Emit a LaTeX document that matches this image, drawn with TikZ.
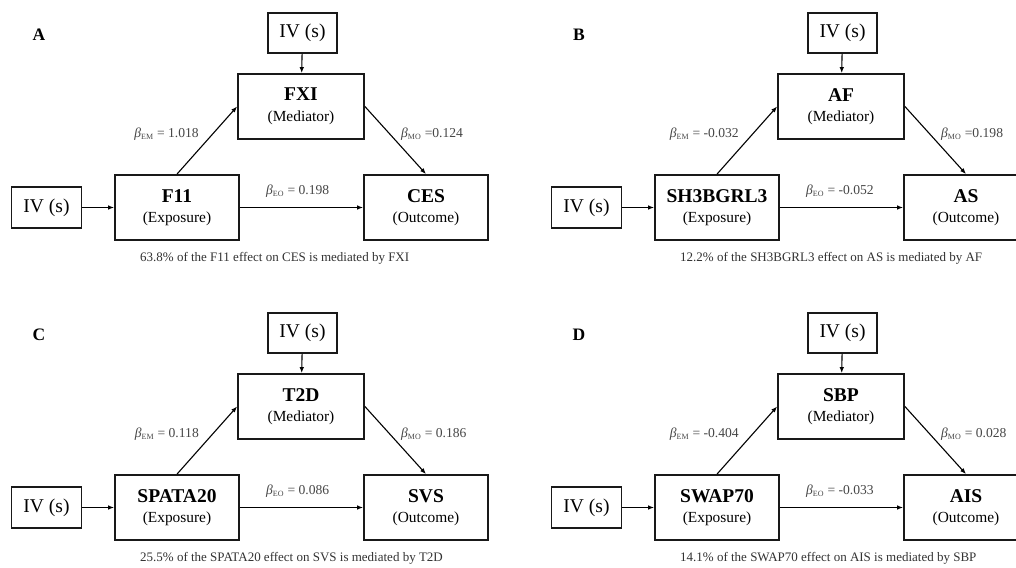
\documentclass[tikz,border=0pt]{standalone}
\usepackage{fontspec}
\setmainfont{Liberation Serif}
\usetikzlibrary{arrows.meta}

% styles for the mediation panels
\tikzset{
  box/.style={draw=black!90, line width=1.8pt, inner sep=0pt, align=center,
    font=\fontsize{15.4}{20.5}\selectfont},
  ivbox/.style={box, font=\fontsize{19.5}{20}\selectfont},
  link/.style={-{Latex[length=6pt,width=4.6pt]}, line width=1.1pt},
  coef/.style={text=black!72, inner sep=0pt, font=\fontsize{13.6}{15}\selectfont},
  note/.style={text=black!80, inner sep=0pt, font=\fontsize{13}{14}\selectfont},
}
\newcommand{\bcoef}[2]{\textit{β}\textsubscript{\fontsize{8}{8}\selectfont #1}#2}
\newcommand{\bname}[1]{{\fontsize{19.5}{20}\selectfont\bfseries #1}}

% one panel: letter, exposure, mediator, outcome, EM, MO, EO, share
\newcommand{\medpanel}[8]{%
  \node[font=\fontsize{17.5}{20}\selectfont\bfseries] (tag) at (39,35) {#1};
  % boxes
  \node[ivbox, minimum width=69pt, minimum height=40pt] (ivt) at (302.5,33) {IV (s)};
  \node[box, minimum width=126pt, minimum height=65pt] (medi) at (301,106.5)
    {\bname{#3}\\(Mediator)};
  \node[ivbox, minimum width=70pt, minimum height=41pt] (ivl) at (46.5,207.5) {IV (s)};
  \node[box, minimum width=124pt, minimum height=65pt] (expo) at (177,207.5)
    {\bname{#2}\\(Exposure)};
  \node[box, minimum width=124pt, minimum height=65pt] (outc) at (426,207.5)
    {\bname{#4}\\(Outcome)};
  % arrows
  \draw[link] (ivt) -- (medi);
  \draw[link] (ivl) -- (expo);
  \draw[link] (expo.north) -- (medi.west);
  \draw[link] (medi.east) -- (outc.north);
  \draw[link] (expo) -- (outc);
  % coefficients
  \node[coef, anchor=east] (em) at (199,134) {\bcoef{EM}{ = #5}};
  \node[coef, anchor=west] (mo) at (401,134) {\bcoef{MO}{#6}};
  \node[coef, anchor=west] (eo) at (266,191) {\bcoef{EO}{ = #7}};
  \node[note, anchor=west] (share) at (140,258)
    {#8\% of the #2 effect on #4 is mediated by #3};
}

\begin{document}
\begin{tikzpicture}[x=1pt, y=-1pt]
  \clip (0,0) rectangle (1016,567);
  \fill[white] (0,0) rectangle (1016,567);

  % A
  \begin{scope}[name prefix=A-]
    \medpanel{A}{F11}{FXI}{CES}{1.018}{ =0.124}{0.198}{63.8}
  \end{scope}
  % B
  \begin{scope}[shift={(540,0)}, name prefix=B-]
    \medpanel{B}{SH3BGRL3}{AF}{AS}{-0.032}{ =0.198}{-0.052}{12.2}
  \end{scope}
  % C
  \begin{scope}[shift={(0,300)}, name prefix=C-]
    \medpanel{C}{SPATA20}{T2D}{SVS}{0.118}{ = 0.186}{0.086}{25.5}
  \end{scope}
  % D
  \begin{scope}[shift={(540,300)}, name prefix=D-]
    \medpanel{D}{SWAP70}{SBP}{AIS}{-0.404}{ = 0.028}{-0.033}{14.1}
  \end{scope}
\end{tikzpicture}
\end{document}
